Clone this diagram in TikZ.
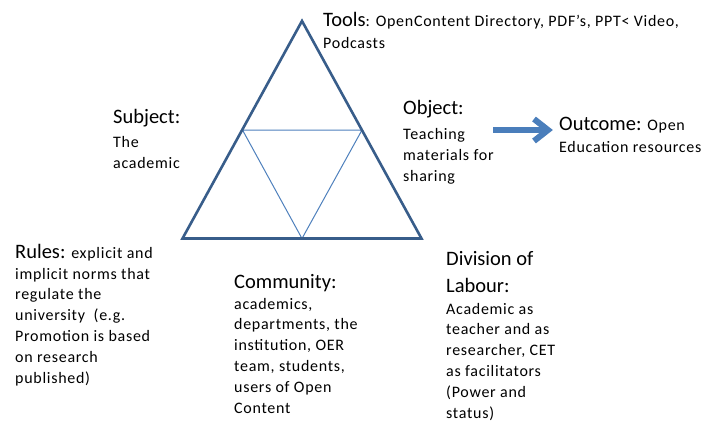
\documentclass[tikz,border=0pt]{standalone}
\usepackage{fontspec}
\setmainfont{Carlito}
\newfontfamily\bodyfont[LetterSpace=4.5]{Carlito}
\definecolor{outerblue}{HTML}{385D8A}
\definecolor{innerblue}{HTML}{4F81BD}
\definecolor{arrowblue}{HTML}{4A7EBB}
\newcommand\ttlfont{\normalfont\fontsize{20.5}{20.8}\selectfont}
\begin{document}
\begin{tikzpicture}[x=1pt,y=-1pt,
  lbl/.style={anchor=base west,align=left,inner sep=0pt,font=\bodyfont\fontsize{16}{20.8}\selectfont}]
\useasboundingbox[fill=white] (0,0) rectangle (704,423);
% triangle
\coordinate (A) at (302,21);
\coordinate (B) at (182.5,238.5);
\coordinate (C) at (421.5,238.5);
\coordinate (AB) at (242.5,130);
\coordinate (AC) at (362,130);
\coordinate (BC) at (302,238.5);
\draw[innerblue,line width=1pt] (AB) -- (AC) -- (BC) -- cycle;
\draw[outerblue,line width=2.6pt,line join=miter] (A) -- (B) -- (C) -- cycle;
% arrow
\coordinate (s) at (493,130);
\coordinate (t) at (548,130);
\draw[arrowblue,line width=6pt] (s) -- ([xshift=-4]t);
\draw[arrowblue,line width=6pt,line join=miter,miter limit=10] ([xshift=-14,yshift=-11]t) -- (t) -- ([xshift=-14,yshift=11]t);
% texts (anchored at the baseline of the last line)
\node[lbl] (tools) at (323,48) {{\ttlfont Tools}: OpenContent Directory, PDF’s, PPT< Video,\\[1pt] Podcasts};
\node[lbl] (subject) at (113,168) {{\ttlfont Subject:}\\[3pt] The\\ academic};
\node[lbl] (object) at (403,181) {{\ttlfont Object:}\\[4pt] Teaching\\ materials for\\ sharing};
\node[lbl] (outcome) at (559,152) {{\ttlfont Outcome:} Open\\[1pt] Education resources};
\node[lbl] (rules) at (15,383) {{\ttlfont Rules:} explicit and\\ implicit norms that\\ regulate the\\ university~ (e.g.\\ Promotion is based\\ on research\\ published)};
\node[lbl] (community) at (234,413) {{\ttlfont Community:}\\ academics,\\ departments, the\\ institution, OER\\ team, students,\\ users of Open\\ Content};
\node[lbl] (division) at (446,418) {{\ttlfont Division of}\\[6pt] {\ttlfont Labour:}\\[1pt] Academic as\\ teacher and as\\ researcher, CET\\ as facilitators\\ (Power and\\ status)};
\end{tikzpicture}
\end{document}
